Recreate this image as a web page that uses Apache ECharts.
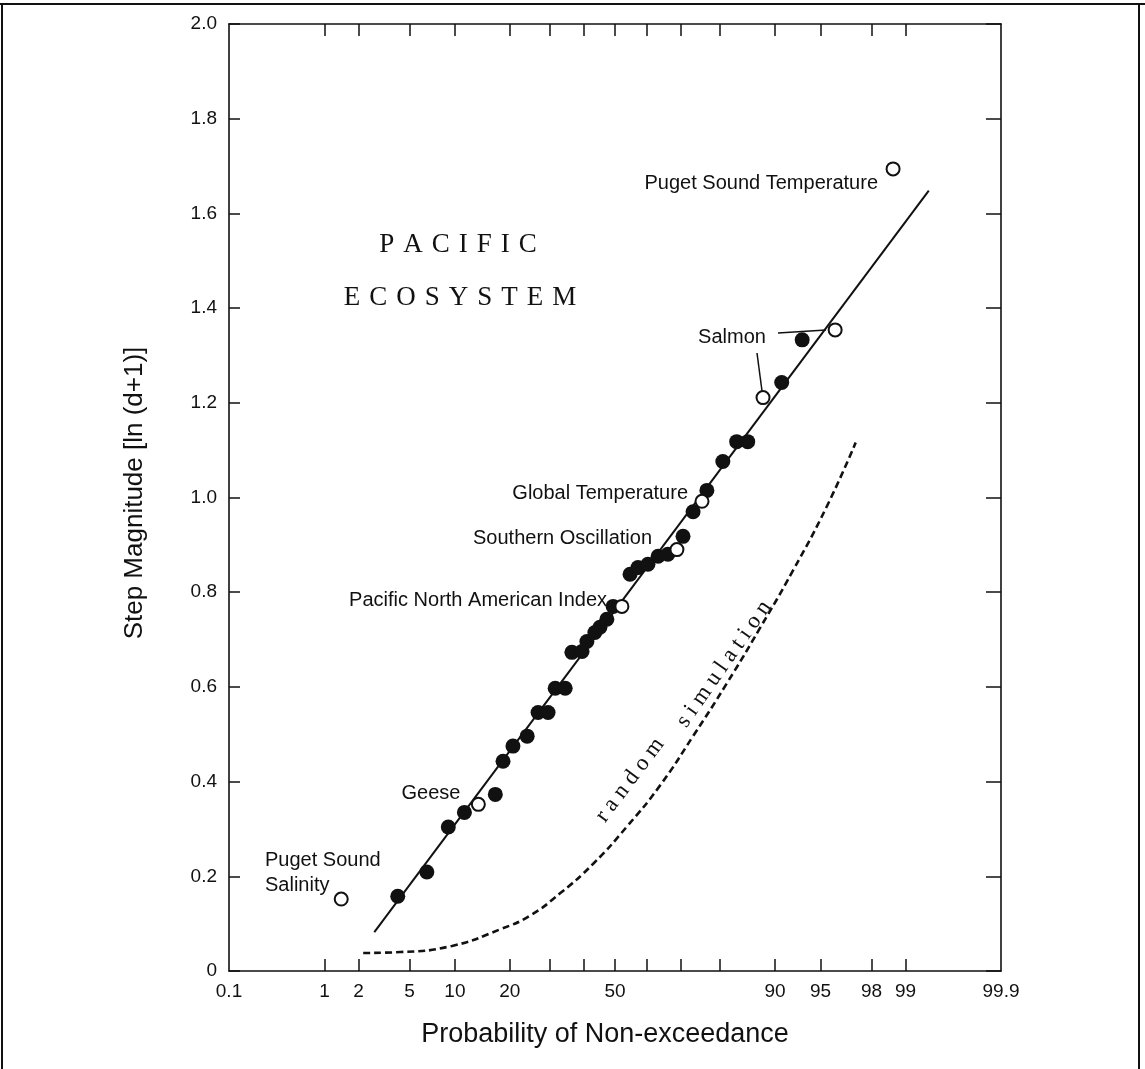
<!DOCTYPE html>
<html>
<head>
<meta charset="utf-8">
<script src="https://cdn.jsdelivr.net/npm/echarts@6/dist/echarts.min.js"></script>
<style>
html,body{margin:0;padding:0;background:#fff;}
#chart{width:1145px;height:1069px;}
</style>
</head>
<body>
<div id="chart"></div>
<script>
// ---------------- DATA (probability of non-exceedance in %, step magnitude) ----------------
const tickProbs   = [1, 2, 5, 10, 20, 30, 40, 50, 60, 70, 80, 90, 95, 98, 99];
const labelProbs  = [0.1, 1, 2, 5, 10, 20, 50, 90, 95, 98, 99, 99.9];
const labelTexts  = ['0.1', '1', '2', '5', '10', '20', '50', '90', '95', '98', '99', '99.9'];

const filledP = [4.1, 6.6, 9.1, 11.4, 16.9, 18.5, 20.7, 24.1, 26.9, 29.6, 31.6, 34.5, 36.5, 39.6, 41.1, 43.6,
                 45.2, 47.4, 49.4, 54.8, 57.3, 60.4, 63.5, 66.4, 70.7, 73.4, 76.9, 80.6, 83.5, 85.6, 90.9, 93.3];
const filledV = [0.158, 0.209, 0.304, 0.335, 0.373, 0.443, 0.475, 0.496, 0.546, 0.546, 0.597, 0.597, 0.673, 0.675, 0.696, 0.715,
                 0.726, 0.743, 0.770, 0.838, 0.852, 0.859, 0.876, 0.880, 0.918, 0.970, 1.015, 1.076, 1.118, 1.118, 1.243, 1.333];

// open circles: Puget Sound Salinity, Geese, PNA Index, Southern Oscillation, Global Temperature, Salmon, Salmon, Puget Sound Temperature
const openP = [1.42, 13.7, 52.2, 69.0, 75.7, 88.2, 96.1, 98.7];
const openV = [0.152, 0.352, 0.770, 0.890, 0.992, 1.211, 1.354, 1.694];

const fitP = [2.7, 99.4];
const fitV = [0.082, 1.648];

const simP = [2.19, 4.3, 9.6, 17.9, 24.8, 33.0, 43.0, 53.8, 64.1, 73.4, 81.5, 87.7, 92.3, 95.5, 97.3];
const simV = [0.038, 0.040, 0.053, 0.088, 0.117, 0.164, 0.226, 0.305, 0.392, 0.496, 0.608, 0.724, 0.846, 0.981, 1.116];

// ---------------- normal probability scale ----------------
function probit(p) {
  const a=[-3.969683028665376e+01,2.209460984245205e+02,-2.759285104469687e+02,1.383577518672690e+02,-3.066479806614716e+01,2.506628277459239e+00];
  const b=[-5.447609879822406e+01,1.615858368580409e+02,-1.556989798598866e+02,6.680131188771972e+01,-1.328068155288572e+01];
  const c=[-7.784894002430293e-03,-3.223964580411365e-01,-2.400758277161838e+00,-2.549732539343734e+00,4.374664141464968e+00,2.938163982698783e+00];
  const d=[7.784695709041462e-03,3.224671290700398e-01,2.445134137142996e+00,3.754408661907416e+00];
  const plow=0.02425, phigh=1-plow;
  let q, r;
  if (p < plow) { q=Math.sqrt(-2*Math.log(p)); return (((((c[0]*q+c[1])*q+c[2])*q+c[3])*q+c[4])*q+c[5])/((((d[0]*q+d[1])*q+d[2])*q+d[3])*q+1); }
  if (p <= phigh) { q=p-0.5; r=q*q; return (((((a[0]*r+a[1])*r+a[2])*r+a[3])*r+a[4])*r+a[5])*q/(((((b[0]*r+b[1])*r+b[2])*r+b[3])*r+b[4])*r+1); }
  q=Math.sqrt(-2*Math.log(1-p)); return -(((((c[0]*q+c[1])*q+c[2])*q+c[3])*q+c[4])*q+c[5])/((((d[0]*q+d[1])*q+d[2])*q+d[3])*q+1);
}
const z = pct => probit(pct / 100);
const pairs = (P, V) => P.map((p, i) => [z(p), V[i]]);

const zMin = z(0.1), zMax = z(99.9);
const tickZ = tickProbs.map(z);
const labelZ = labelProbs.map(z);
function labelFor(v) {
  let best = 0, bd = Infinity;
  labelZ.forEach((lz, i) => { const d = Math.abs(lz - v); if (d < bd) { bd = d; best = i; } });
  return labelTexts[best];
}

const SANS = '"Liberation Sans", Arial, Helvetica, sans-serif';
const SERIF = '"Liberation Serif", "Times New Roman", serif';
const BLACK = '#111';
const ANN = '20px ' + SANS;

const chart = echarts.init(document.getElementById('chart'), null, {renderer: 'canvas'});

const option = {
  animation: false,
  backgroundColor: '#fff',
  grid: {left: 229, right: 144, top: 24, bottom: 98},
  xAxis: [
    {
      type: 'value', min: zMin, max: zMax, position: 'bottom',
      axisLine: {show: true, onZero: false, lineStyle: {color: BLACK, width: 1.6}},
      axisTick: {show: true, inside: true, length: 12, customValues: tickZ, lineStyle: {color: BLACK, width: 1.5}},
      axisLabel: {show: true, customValues: labelZ, formatter: v => labelFor(v), margin: 11,
                  fontFamily: SANS, fontSize: 19, color: BLACK},
      splitLine: {show: false}
    },
    {
      type: 'value', min: zMin, max: zMax, position: 'top',
      axisLine: {show: true, onZero: false, lineStyle: {color: BLACK, width: 1.6}},
      axisTick: {show: true, inside: true, length: 12, customValues: tickZ, lineStyle: {color: BLACK, width: 1.5}},
      axisLabel: {show: false},
      splitLine: {show: false}
    }
  ],
  yAxis: [
    {
      type: 'value', min: 0, max: 2, interval: 0.2, position: 'left',
      axisLine: {show: true, onZero: false, lineStyle: {color: BLACK, width: 1.6}},
      axisTick: {show: true, inside: true, length: 11, lineStyle: {color: BLACK, width: 1.5}},
      axisLabel: {formatter: v => (Math.abs(v) < 1e-9 ? '0' : v.toFixed(1)), margin: 12,
                  fontFamily: SANS, fontSize: 19, color: BLACK},
      splitLine: {show: false}
    },
    {
      type: 'value', min: 0, max: 2, interval: 0.2, position: 'right',
      axisLine: {show: true, onZero: false, lineStyle: {color: BLACK, width: 1.6}},
      axisTick: {show: true, inside: true, length: 15, lineStyle: {color: BLACK, width: 1.5}},
      axisLabel: {show: false},
      splitLine: {show: false}
    }
  ],
  series: [
    {
      name: 'fit', type: 'line', xAxisIndex: 0, yAxisIndex: 0,
      data: pairs(fitP, fitV), showSymbol: false, symbol: 'none',
      lineStyle: {color: BLACK, width: 2}, z: 2
    },
    {
      name: 'random simulation', type: 'line', xAxisIndex: 0, yAxisIndex: 0,
      data: pairs(simP, simV), showSymbol: false, symbol: 'none', smooth: 0.5,
      lineStyle: {color: BLACK, width: 2.6, type: [7, 4]}, z: 2
    },
    {
      name: 'steps', type: 'scatter', xAxisIndex: 0, yAxisIndex: 0,
      data: pairs(filledP, filledV), symbol: 'circle', symbolSize: 15,
      itemStyle: {color: BLACK, opacity: 1}, z: 3
    },
    {
      name: 'named', type: 'scatter', xAxisIndex: 0, yAxisIndex: 0,
      data: pairs(openP, openV), symbol: 'circle', symbolSize: 13,
      itemStyle: {color: '#fff', borderColor: BLACK, borderWidth: 2, opacity: 1}, z: 4
    }
  ],
  graphic: [
    // outer frame
    {type: 'line', shape: {x1: 0, y1: 4, x2: 1145, y2: 4}, style: {stroke: BLACK, lineWidth: 2}, silent: true},
    {type: 'line', shape: {x1: 2, y1: 4, x2: 2, y2: 1069}, style: {stroke: BLACK, lineWidth: 2}, silent: true},
    {type: 'line', shape: {x1: 1139, y1: 4, x2: 1139, y2: 1069}, style: {stroke: BLACK, lineWidth: 2}, silent: true},
    // axis titles
    {type: 'text', x: 605, y: 1035, style: {text: 'Probability of Non-exceedance', font: '27px ' + SANS, fill: BLACK, textAlign: 'center', textVerticalAlign: 'middle'}},
    {type: 'text', x: 135, y: 493, rotation: Math.PI / 2, style: {text: 'Step Magnitude [ln (d+1)]', font: '26px ' + SANS, fill: BLACK, textAlign: 'center', textVerticalAlign: 'middle'}},
    // titles
    {type: 'text', x: 458, y: 245, style: {text: 'P\u2004A\u2004C\u2004I\u2004F\u2004I\u2004C', font: '27px ' + SERIF, fill: BLACK, textAlign: 'center', textVerticalAlign: 'middle'}},
    {type: 'text', x: 460, y: 298, style: {text: 'E\u2004C\u2004O\u2004S\u2004Y\u2004S\u2004T\u2004E\u2004M', font: '27px ' + SERIF, fill: BLACK, textAlign: 'center', textVerticalAlign: 'middle'}},
    // annotations
    {type: 'text', x: 265, y: 848, style: {text: 'Puget Sound\nSalinity', font: ANN, lineHeight: 25, fill: BLACK, textAlign: 'left', textVerticalAlign: 'top'}},
    {type: 'text', x: 431, y: 793, style: {text: 'Geese', font: ANN, fill: BLACK, textAlign: 'center', textVerticalAlign: 'middle'}},
    {type: 'text', x: 607, y: 600, style: {text: 'Pacific North American Index', font: ANN, fill: BLACK, textAlign: 'right', textVerticalAlign: 'middle'}},
    {type: 'text', x: 652, y: 538, style: {text: 'Southern Oscillation', font: ANN, fill: BLACK, textAlign: 'right', textVerticalAlign: 'middle'}},
    {type: 'text', x: 688, y: 493, style: {text: 'Global Temperature', font: ANN, fill: BLACK, textAlign: 'right', textVerticalAlign: 'middle'}},
    {type: 'text', x: 732, y: 337, style: {text: 'Salmon', font: ANN, fill: BLACK, textAlign: 'center', textVerticalAlign: 'middle'}},
    {type: 'text', x: 878, y: 183, style: {text: 'Puget Sound Temperature', font: ANN, fill: BLACK, textAlign: 'right', textVerticalAlign: 'middle'}},
    // Salmon leader lines
    {type: 'line', shape: {x1: 778, y1: 333, x2: 826, y2: 330}, style: {stroke: BLACK, lineWidth: 1.5}, silent: true},
    {type: 'line', shape: {x1: 757, y1: 353, x2: 762, y2: 391}, style: {stroke: BLACK, lineWidth: 1.5}, silent: true},
    // random simulation label
    {type: 'text', x: 630, y: 780, rotation: 53 * Math.PI / 180, style: {text: 'r\u2005a\u2005n\u2005d\u2005o\u2005m', font: '23px ' + SERIF, fill: BLACK, textAlign: 'center', textVerticalAlign: 'middle'}},
    {type: 'text', x: 724, y: 664, rotation: 55 * Math.PI / 180, style: {text: 's\u2005i\u2005m\u2005u\u2005l\u2005a\u2005t\u2005i\u2005o\u2005n', font: '23px ' + SERIF, fill: BLACK, textAlign: 'center', textVerticalAlign: 'middle'}}
  ]
};
chart.setOption(option);
</script>
</body>
</html>
